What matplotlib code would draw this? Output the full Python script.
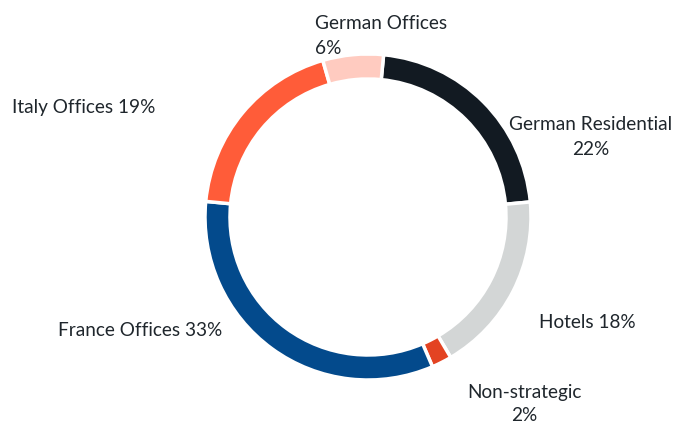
import matplotlib.pyplot as plt

plt.rcParams['font.family'] = ['Lato', 'DejaVu Sans']

# data
labels = ['German Residential', 'Hotels', 'Non-strategic', 'France Offices', 'Italy Offices', 'German Offices']
shares = [22, 18, 2, 33, 19, 6]
colors = ['#121a22', '#d3d6d6', '#e34322', '#034a8c', '#ff5c39', '#ffcbc0']

W, H = 680, 425
fig = plt.figure(figsize=(6.8, 4.25), dpi=100)
ax = fig.add_axes([0, 0, 1, 1])
ax.set_xlim(0, W)
ax.set_ylim(0, H)
ax.set_aspect('equal')
ax.axis('off')

cx, cy, R = 368, H - 217, 163
ax.pie(shares, colors=colors, startangle=84.5, counterclock=False,
       center=(cx, cy), radius=R,
       wedgeprops=dict(width=25, edgecolor='white', linewidth=2.5))
ax.set_xlim(0, W)
ax.set_ylim(0, H)

tc = '#1f262c'
fs = 13.7
ax.text(315, H - 36, f'{labels[5]}\n{shares[5]}%', ha='left', va='center',
        fontsize=fs, color=tc, linespacing=1.55)
ax.text(591, H - 137, f'{labels[0]}\n{shares[0]}%', ha='center', va='center',
        fontsize=fs, color=tc, linespacing=1.55)
ax.text(12, H - 107, f'{labels[4]} {shares[4]}%', ha='left', va='center',
        fontsize=fs, color=tc)
ax.text(539, H - 322, f'{labels[1]} {shares[1]}%', ha='left', va='center',
        fontsize=fs, color=tc)
ax.text(222, H - 330, f'{labels[3]} {shares[3]}%', ha='right', va='center',
        fontsize=fs, color=tc)
ax.text(524, H - 404, f'{labels[2]}\n{shares[2]}%', ha='center', va='center',
        fontsize=fs, color=tc, linespacing=1.45)

fig.savefig('out.png', dpi=100)
